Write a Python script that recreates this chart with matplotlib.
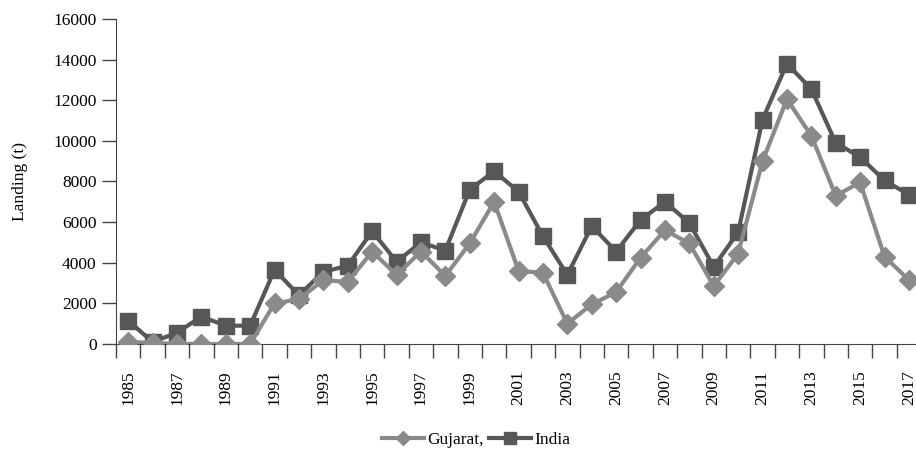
import numpy as np
import matplotlib
matplotlib.use("Agg")
import matplotlib.pyplot as plt

plt.rcParams['font.family'] = ['Liberation Serif', 'DejaVu Serif']

years = list(range(1985, 2018))
gujarat = [100, 50, 0, 0, 0, 0, 2000, 2200, 3150, 3050, 4550, 3400, 4550, 3350,
           4950, 7000, 3600, 3500, 1000, 1950, 2550, 4250, 5600, 4950, 2850, 4450,
           9000, 12050, 10250, 7300, 7950, 4300, 3150]
india = [1150, 100, 550, 1350, 900, 900, 3650, 2400, 3550, 3850, 5550, 4050, 5000,
         4600, 7600, 8500, 7500, 5300, 3400, 5800, 4550, 6100, 7000, 5950, 3800,
         5500, 11050, 13800, 12550, 9900, 9200, 8050, 7350]

fig = plt.figure(figsize=(9.16, 4.58), dpi=100)
ax = fig.add_axes([0.1266, 0.249, 0.879, 0.7096])

x = np.arange(len(years))
ax.plot(x, gujarat, color='#8a8a8a', lw=3, marker='D', ms=10,
        label='Gujarat,', zorder=3)
ax.plot(x, india, color='#575757', lw=3, marker='s', ms=11,
        label='India', zorder=2)

ax.set_xlim(-0.5, len(years) - 0.5)
ax.set_ylim(0, 16000)
ax.set_yticks(range(0, 16001, 2000))

# ticks between categories, labels on every other year
ax.set_xticks(np.arange(-0.5, len(years), 1.0))
ax.set_xticklabels([])
ax.set_xticks(x[::2], minor=True)
ax.set_xticklabels([str(y) for y in years[::2]], minor=True, rotation=90)
ax.tick_params(axis='x', which='major', length=10, width=1, color='#444444')
ax.tick_params(axis='x', which='minor', length=0, pad=19, labelsize=12.5)
ax.tick_params(axis='y', length=10, width=1, color='#444444', labelsize=12.5, pad=4)

for s in ['top', 'right']:
    ax.spines[s].set_visible(False)
for s in ['left', 'bottom']:
    ax.spines[s].set_color('#444444')

ax.set_ylabel('Landing (t)', fontsize=12.5, labelpad=18)

fig.legend(loc='center', bbox_to_anchor=(0.52, 0.04), ncol=2, frameon=False,
           fontsize=12.5, handlelength=2.4, columnspacing=0.3, handletextpad=0.2,
           markerscale=0.75)

fig.savefig('out.png', dpi=100)
